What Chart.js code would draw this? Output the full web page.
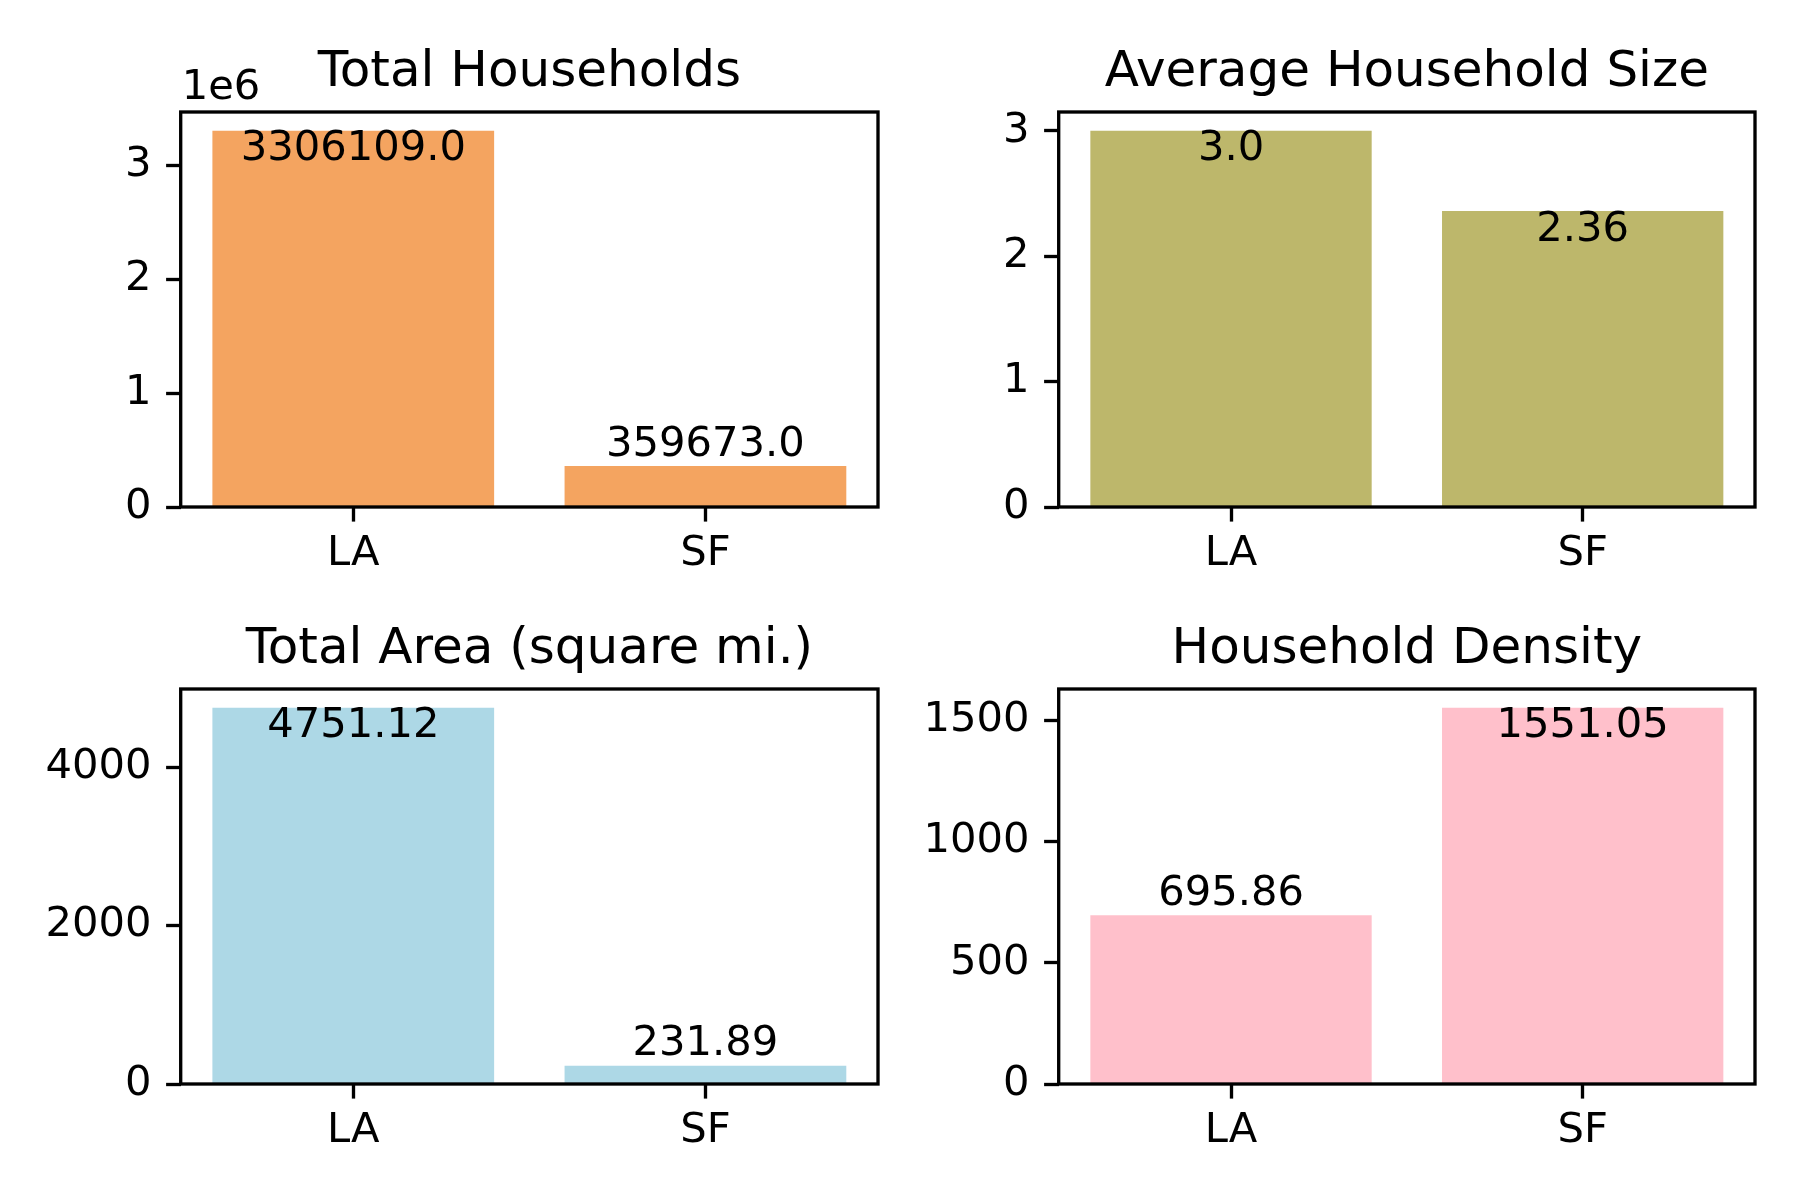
<!DOCTYPE html>
<html>
<head>
<meta charset="utf-8">
<script src="https://cdn.jsdelivr.net/npm/chart.js@4.4.1/dist/chart.umd.min.js"></script>
<style>
  html, body { margin: 0; padding: 0; background: #ffffff; }
  #wrap { position: relative; width: 1800px; height: 1200px; background: #ffffff; }
  canvas { position: absolute; }
</style>
</head>
<body>
<div id="wrap">
  <canvas id="c0" width="900" height="600" style="left:0px;top:0px"></canvas>
  <canvas id="c1" width="900" height="600" style="left:900px;top:0px"></canvas>
  <canvas id="c2" width="900" height="600" style="left:0px;top:600px"></canvas>
  <canvas id="c3" width="900" height="600" style="left:900px;top:600px"></canvas>
</div>
<script>
// ---- data ----
const categories = ['LA', 'SF'];
const totalHouseholds = [3306109, 359673];
const avgHouseholdSize = [3.0, 2.36];
const totalArea = [4751.12, 231.89];
const householdDensity = [695.86, 1551.05];

const chartTitles = ['Total Households', 'Average Household Size', 'Total Area (square mi.)', 'Household Density'];
const chartColors = ['#F4A460', '#BDB76B', '#ADD8E6', '#FFC0CB'];

// y tick values (data units) and their labels
const householdsTicks = [0, 1000000, 2000000, 3000000];
const householdsTickLabels = ['0', '1', '2', '3'];
const sizeTicks = [0, 1, 2, 3];
const sizeTickLabels = ['0', '1', '2', '3'];
const areaTicks = [0, 2000, 4000];
const areaTickLabels = ['0', '2000', '4000'];
const densityTicks = [0, 500, 1000, 1500];
const densityTickLabels = ['0', '500', '1000', '1500'];

const yOffsetLabels = ['1e6', '', '', ''];

const seriesList = [totalHouseholds, avgHouseholdSize, totalArea, householdDensity];
const tickList = [householdsTicks, sizeTicks, areaTicks, densityTicks];
const tickLabelList = [householdsTickLabels, sizeTickLabels, areaTickLabels, densityTickLabels];

// ---- layout (pixels) ----
const FONT = "'DejaVu Sans', sans-serif";
const TICK_PX = 41.67;
const TITLE_PX = 50;
const LW = 3.33;

const layouts = [
  { yw: 180.7, padRight: 22, xh: 93, titleTop: 43.5, titleBottom: 8.5 },
  { yw: 158.7, padRight: 45, xh: 93, titleTop: 43.5, titleBottom: 8.5 },
  { yw: 180.7, padRight: 22, xh: 116, titleTop: 20.5, titleBottom: 8.5 },
  { yw: 158.7, padRight: 45, xh: 116, titleTop: 20.5, titleBottom: 8.5 }
];

function fmtValue(v) {
  return Number.isInteger(v) ? v.toFixed(1) : String(v);
}

const framePlugin = {
  id: 'frame',
  afterDatasetsDraw(chart, args, opts) {
    const ctx = chart.ctx;
    const meta = chart.getDatasetMeta(0);
    const vals = chart.data.datasets[0].data.map(p => p.y);
    const maxV = Math.max(...vals);
    ctx.save();
    ctx.fillStyle = '#000000';
    ctx.font = TICK_PX + 'px ' + FONT;
    ctx.textAlign = 'center';
    ctx.textBaseline = 'alphabetic';
    meta.data.forEach((bar, i) => {
      const v = vals[i];
      const txt = fmtValue(v);
      const y = (v > 0.5 * maxV) ? bar.y + 29.5 : bar.y - 10.5;
      ctx.fillText(txt, bar.x, y);
    });
    ctx.restore();
  },
  afterDraw(chart, args, opts) {
    const ctx = chart.ctx;
    const a = chart.chartArea;
    ctx.save();
    ctx.strokeStyle = '#000000';
    ctx.lineWidth = LW;
    ctx.lineJoin = 'miter';
    ctx.strokeRect(a.left, a.top, a.right - a.left, a.bottom - a.top);
    if (opts.offsetLabel) {
      ctx.fillStyle = '#000000';
      ctx.font = TICK_PX + 'px ' + FONT;
      ctx.textAlign = 'left';
      ctx.textBaseline = 'alphabetic';
      ctx.fillText(opts.offsetLabel, a.left + 1, a.top - 13);
    }
    ctx.restore();
  }
};

seriesList.forEach((series, k) => {
  const L = layouts[k];
  const maxV = Math.max(...series);
  const n = categories.length;
  const xMargin = 0.05 * ((n - 1) + 0.8);
  const yTicks = tickList[k];
  const yLabels = tickLabelList[k];
  new Chart(document.getElementById('c' + k), {
    type: 'bar',
    data: {
      datasets: [{
        data: series.map((v, i) => ({ x: i, y: v })),
        backgroundColor: chartColors[k],
        borderWidth: 0,
        barPercentage: 0.8,
        categoryPercentage: 1.0
      }]
    },
    options: {
      responsive: false,
      animation: false,
      devicePixelRatio: 1,
      layout: { padding: { left: 0, right: L.padRight, top: 0, bottom: 0 } },
      plugins: {
        legend: { display: false },
        tooltip: { enabled: false },
        title: {
          display: true,
          text: chartTitles[k],
          fullSize: false,
          color: '#000000',
          font: { family: FONT, size: TITLE_PX, weight: 'normal', lineHeight: 1.2 },
          padding: { top: L.titleTop, bottom: L.titleBottom }
        },
        frame: { offsetLabel: yOffsetLabels[k] }
      },
      scales: {
        x: {
          type: 'linear',
          min: -0.4 - xMargin,
          max: (n - 1) + 0.4 + xMargin,
          offset: false,
          afterBuildTicks: (scale) => { scale.ticks = categories.map((c, i) => ({ value: i })); },
          afterFit: (scale) => { scale.height = L.xh; },
          border: { display: false },
          grid: {
            drawOnChartArea: false,
            drawTicks: true,
            tickLength: 14.6,
            tickWidth: LW,
            tickColor: '#000000',
            offset: false
          },
          ticks: {
            autoSkip: false,
            maxRotation: 0,
            padding: 8,
            color: '#000000',
            font: { family: FONT, size: TICK_PX },
            callback: (v, i) => categories[i]
          }
        },
        y: {
          type: 'linear',
          min: 0,
          max: maxV * 1.05,
          afterBuildTicks: (scale) => { scale.ticks = yTicks.map(t => ({ value: t })); },
          afterFit: (scale) => { scale.width = L.yw; },
          border: { display: false },
          grid: {
            drawOnChartArea: false,
            drawTicks: true,
            tickLength: 14.6,
            tickWidth: LW,
            tickColor: '#000000'
          },
          ticks: {
            autoSkip: false,
            padding: 14.6,
            color: '#000000',
            font: { family: FONT, size: TICK_PX },
            callback: (v, i) => yLabels[i]
          }
        }
      }
    },
    plugins: [framePlugin]
  });
});
</script>
</body>
</html>
